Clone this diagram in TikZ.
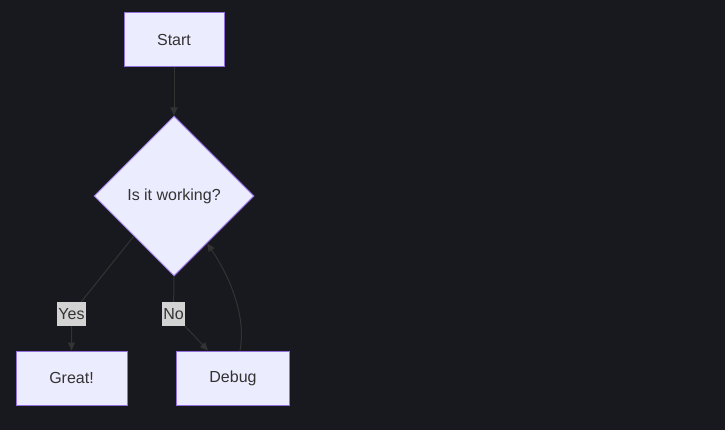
\documentclass[tikz,border=0pt]{standalone}
\usepackage{fontspec}
\setmainfont{Liberation Sans}
\usetikzlibrary{positioning,shapes.geometric,arrows.meta}
\definecolor{bgcol}{HTML}{18191E}
\definecolor{nodefill}{HTML}{ECECFF}
\definecolor{nodeline}{HTML}{9370DB}
\definecolor{edgecol}{HTML}{333333}
\definecolor{lblfill}{HTML}{D3D3D3}
\begin{document}
\begin{tikzpicture}[x=1pt,y=-1pt,
  every node/.style={font=\fontsize{16pt}{19pt}\selectfont,text=edgecol},
  box/.style={draw=nodeline,fill=nodefill,line width=1pt,minimum height=54pt},
  decision/.style={diamond,draw=nodeline,fill=nodefill,line width=1pt,inner sep=0pt,minimum width=160pt,minimum height=160pt},
  lbl/.style={fill=lblfill,inner sep=1pt,minimum height=24pt},
  edge/.style={draw=edgecol,line width=1pt},
  arr/.style={edge,-{Triangle[length=8pt,width=7pt]}}]
\fill[bgcol] (0,0) rectangle (725,430); \useasboundingbox (0,0) rectangle (725,430);
\node[box,minimum width=100pt] (start) at (174,40) {Start};
\node[decision] (dec) at (174,196) {Is it working?};
\node[box,minimum width=111pt] (great) at (71.5,378) {Great!};
\node[box,minimum width=113pt] (dbg) at (233,378) {Debug};

\draw[arr] (start) -- (dec);
\draw[arr] (dec.south west) -- (71.5,314) -- (great.north);
\draw[arr] (dec.south) -- (173.5,314) -- ([xshift=-25pt]dbg.north);
\draw[arr] ([xshift=7pt]dbg.north) .. controls (246,318) and (232,280) .. (dec.-55);
\node[lbl] (yes) at (71.5,314) {Yes}; \node[lbl] (no) at (173.5,314) {No};
\end{tikzpicture}
\end{document}
